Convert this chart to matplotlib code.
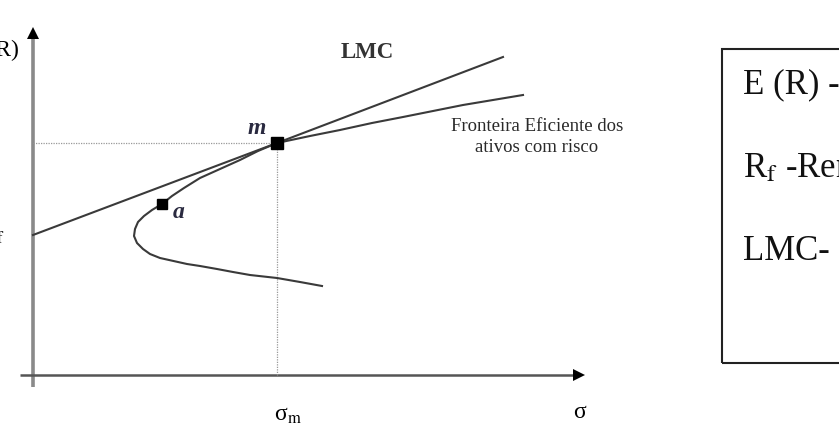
import matplotlib.pyplot as plt
from matplotlib.patches import Rectangle

plt.rcParams['font.family'] = ['Liberation Serif', 'DejaVu Serif']
plt.rcParams['mathtext.fontset'] = 'stix'

# efficient frontier (sigma, E(R)), lower end -> upper end
frontier_sigma = [2.89, 2.67, 2.44, 2.17, 2.00, 1.84, 1.67, 1.54, 1.27, 1.17, 1.10, 1.04,
                  1.01, 1.02, 1.05, 1.11, 1.19, 1.29, 1.39, 1.51, 1.67, 1.87, 2.07, 2.25,
                  2.44, 2.77, 3.07, 3.39, 3.70, 4.00, 4.30, 4.60, 4.90]
frontier_ret = [0.89, 0.93, 0.97, 1.00, 1.03, 1.06, 1.09, 1.11, 1.17, 1.21, 1.26, 1.32,
                1.39, 1.46, 1.53, 1.59, 1.65, 1.71, 1.79, 1.87, 1.97, 2.06, 2.15, 2.24,
                2.32, 2.39, 2.45, 2.52, 2.58, 2.64, 2.70, 2.75, 2.80]

# capital market line (LMC), from Rf through m
lmc_sigma = [0.0, 2.44, 4.70]
lmc_ret = [1.40, 2.32, 3.18]

rf = 1.40
m_point = (2.44, 2.32)
a_point = (1.29, 1.71)

box_lines = ['E (R) -', 'R$_\\mathrm{f}$ -Ren', 'LMC-']
box_rets = [2.82, 1.98, 1.15]

fig = plt.figure(figsize=(8.39, 4.33), dpi=100)
ax = fig.add_axes([0, 0, 1, 1])
ax.set_xlim(-0.33, 8.06)
ax.set_ylim(-0.58, 3.75)
ax.axis('off')

# axes with arrow heads
ax.plot([0, 0], [-0.12, 3.40], color='#8a8a8a', lw=2.6, solid_capstyle='butt')
ax.plot([0], [3.42], marker='^', color='black', ms=9, mew=0)
ax.plot([-0.13, 5.45], [0, 0], color='#555555', lw=1.8, solid_capstyle='butt')
ax.plot([5.46], [0], marker='>', color='black', ms=9, mew=0)

# dotted guides at m
ax.plot([0, m_point[0]], [m_point[1], m_point[1]], color='#999999', lw=0.9, ls=(0, (1, 1)))
ax.plot([m_point[0], m_point[0]], [0, m_point[1]], color='#999999', lw=0.9, ls=(0, (1, 1)))

ax.plot(lmc_sigma, lmc_ret, color='#3a3a3a', lw=1.5)
ax.plot(frontier_sigma, frontier_ret, color='#3a3a3a', lw=1.5, solid_joinstyle='round')

ax.plot(*m_point, marker='s', color='black', ms=8.5)
ax.plot(*a_point, marker='s', color='black', ms=7.5)

ax.text(2.24, 2.47, 'm', fontsize=17, style='italic', fontweight='bold', color='#2a2a40',
        ha='center', va='center')
ax.text(1.46, 1.62, 'a', fontsize=17, style='italic', fontweight='bold', color='#2a2a40',
        ha='center', va='center')
ax.text(3.34, 3.22, 'LMC', fontsize=16.5, fontweight='bold', color='#333333',
        ha='center', va='center')
ax.text(5.04, 2.38, 'Fronteira Eficiente dos\nativos com risco', fontsize=13.5,
        color='#2a2a2a', ha='center', va='center', linespacing=1.3)

ax.text(-0.14, 3.25, 'E(R)', fontsize=17, ha='right', va='center')
ax.text(-0.28, 1.40, 'R$_\\mathrm{f}$', fontsize=17, ha='right', va='center')
ax.text(2.55, -0.40, 'σ$_\\mathrm{m}$', fontsize=17, ha='center', va='center')
ax.text(5.47, -0.38, 'σ', fontsize=17, ha='center', va='center')

# legend box on the right (cut off by the image edge, as in the source)
ax.add_patch(Rectangle((6.89, 0.12), 1.6, 3.14, fill=False, edgecolor='#222222', lw=1.5))
for txt, y in zip(box_lines, box_rets):
    ax.text(7.10, y, txt, fontsize=25, ha='left', va='baseline', color='#111111')

fig.savefig('out.png', dpi=100)
